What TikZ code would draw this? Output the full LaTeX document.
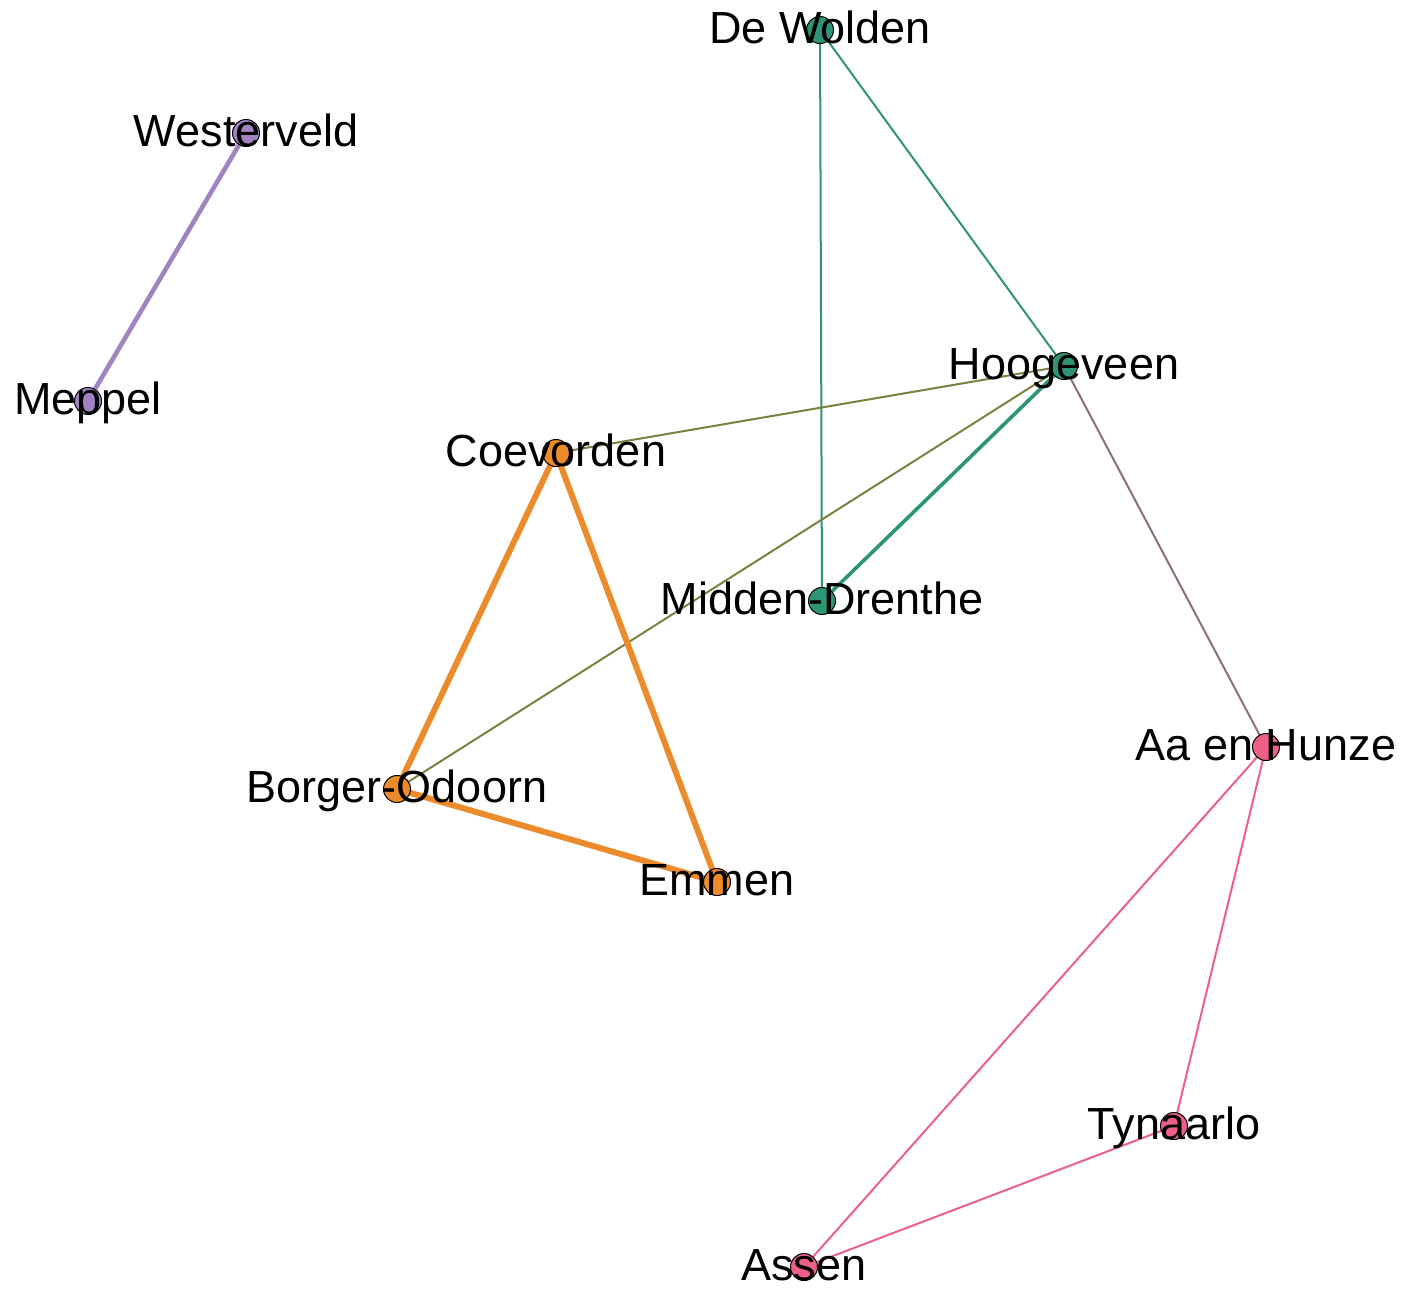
\documentclass[tikz,border=0pt]{standalone}
\usepackage{fontspec}
\setmainfont{Liberation Sans}
\definecolor{cgreen}{HTML}{2E9476}
\definecolor{corange}{HTML}{EC8B2C}
\definecolor{cpurple}{HTML}{A283C2}
\definecolor{cpink}{HTML}{EC6088}
\definecolor{colive}{HTML}{7D803F}
\definecolor{cmauve}{HTML}{8C7079}
\begin{document}
\begin{tikzpicture}[x=0.5pt,y=-0.5pt,
  vert/.style={circle,draw=black,line width=0.5pt,minimum size=13.5pt,inner sep=0pt},
  lbl/.style={font=\fontsize{22.5pt}{26pt}\selectfont,inner sep=0pt,anchor=base,yshift=-6.7pt},
  thin/.style={line width=1pt},
  e/.style={line cap=round}]
\useasboundingbox (0,0) rectangle (1414,1292);
% node positions
\coordinate (dw) at (820,30);
\coordinate (we) at (246,133);
\coordinate (me) at (88,401);
\coordinate (ho) at (1064,366);
\coordinate (co) at (556,453);
\coordinate (md) at (822,601);
\coordinate (aa) at (1266,747);
\coordinate (bo) at (397,789);
\coordinate (em) at (717,882);
\coordinate (ty) at (1174,1126);
\coordinate (as) at (804,1267);
% edges
\draw[e,cpurple,line width=2.3pt] (we) -- (me);
\draw[e,cgreen,thin] (dw) -- (md);
\draw[e,cgreen,thin] (dw) -- (ho);
\draw[e,cgreen,line width=1.8pt] (ho) -- (md);
\draw[e,colive,thin] (ho) -- (co);
\draw[e,colive,thin] (ho) -- (bo);
\draw[e,cmauve,thin] (ho) -- (aa);
\draw[e,corange,line width=3pt] (co) -- (bo);
\draw[e,corange,line width=3pt] (co) -- (em);
\draw[e,corange,line width=3pt] (bo) -- (em);
\draw[e,cpink,thin] (aa) -- (as);
\draw[e,cpink,thin] (aa) -- (ty);
\draw[e,cpink,thin] (ty) -- (as);
% vertices
\node[vert,fill=cgreen] (ndw) at (dw) {};
\node[vert,fill=cpurple] (nwe) at (we) {};
\node[vert,fill=cpurple] (nme) at (me) {};
\node[vert,fill=cgreen] (nho) at (ho) {};
\node[vert,fill=corange] (nco) at (co) {};
\node[vert,fill=cgreen] (nmd) at (md) {};
\node[vert,fill=cpink] (naa) at (aa) {};
\node[vert,fill=corange] (nbo) at (bo) {};
\node[vert,fill=corange] (nem) at (em) {};
\node[vert,fill=cpink] (nty) at (ty) {};
\node[vert,fill=cpink] (nas) at (as) {};
% labels
\node[lbl] (ldw) at (dw) {De Wolden};
\node[lbl] (lwe) at (we) {Westerveld};
\node[lbl] (lme) at (me) {Meppel};
\node[lbl] (lho) at (ho) {Hoogeveen};
\node[lbl] (lco) at (co) {Coevorden};
\node[lbl] (lmd) at (md) {Midden-Drenthe};
\node[lbl] (laa) at (aa) {Aa en Hunze};
\node[lbl] (lbo) at (bo) {Borger-Odoorn};
\node[lbl] (lem) at (em) {Emmen};
\node[lbl] (lty) at (ty) {Tynaarlo};
\node[lbl] (las) at (as) {Assen};
\end{tikzpicture}
\end{document}
